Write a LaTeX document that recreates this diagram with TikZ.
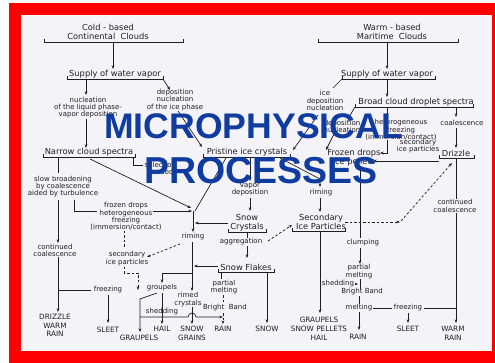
\documentclass[tikz,border=0pt]{standalone}
\usepackage{fontspec}
\newfontfamily\dv{DejaVu Sans}
\newfontfamily\lsb{Liberation Sans}
\usetikzlibrary{arrows.meta}
\definecolor{bg}{RGB}{244,244,248}
\definecolor{ink}{RGB}{30,30,35}
\definecolor{ovl}{RGB}{16,60,160}
\newcommand\brk[3]{\draw[ln] (#1,#3-3)--(#1,#3)--(#2,#3)--(#2,#3-3);}
\begin{document}
\begin{tikzpicture}[x=1pt,y=-1pt,
  lab/.style={font=\dv\fontsize{8.3}{9}\selectfont, inner sep=0.5pt, align=center, text=ink},
  sm/.style={font=\dv\fontsize{7}{7.3}\selectfont, inner sep=0.5pt, align=center, text=ink},
  cp/.style={font=\dv\fontsize{7.3}{8.8}\selectfont, inner sep=0.5pt, align=center, text=ink},
  arr/.style={-{Stealth[length=3.6pt,width=2.8pt]}},
  ln/.style={draw=ink, line width=0.7pt},
  dsh/.style={dash pattern=on 2.5pt off 2pt},
  big/.style={text=ovl, anchor=base west, inner sep=0pt}]
% frame
\fill[white] (0,0) rectangle (495,363);
\fill[red] (9,3) rectangle (495,363);
\fill[bg] (21,15) rectangle (492,351);
\useasboundingbox (0,0) rectangle (495,363);
% ---------------- left top
\node[lab] (cold) at (108,31.5) {Cold - based\\Continental\ \ Clouds};
\brk{44}{183}{42}
\draw[ln,arr] (113,42) -- (113,69);
\node[lab] (supL) at (115,74) {Supply of water vapor};
\brk{67}{163}{79}
\draw[ln,arr] (86,79) -- (86,95);
\node[sm] (nucL) at (88,107.5) {nucleation\\of the liquid phase-\\vapor deposition};
\draw[ln,arr] (163,79) -- (170,90);
\node[sm] (depL) at (175,100) {deposition\\nucleation\\of the ice phase};
\draw[ln,arr] (86,119) -- (86,148);
\node[lab] (narrow) at (89,152) {Narrow cloud spectra};
\brk{43}{135}{157}
\draw[ln,arr] (178,111) -- (202,147);
\node[lab] (prist) at (247,152) {Pristine ice crystals};
\brk{203}{290}{157}
\draw[ln] (133,157)--(133,165)--(143,165);
\node[sm,anchor=west] (seed) at (144,168.5) {selection\\needed};
% ---------------- left column
\draw[ln] (58,157) -- (58,173);
\node[sm] (slow) at (63,186.5) {slow broadening\\by coalescence\\aided by turbulence};
\draw[ln,arr] (58,200) -- (58,243);
\node[sm] (contL) at (55,250.5) {continued\\coalescence};
\draw[ln,arr] (58,257) -- (58,312);
\node[cp] (drz) at (55,325.5) {DRIZZLE\\WARM\\RAIN};
\draw[ln] (58,290) -- (91,290);
\node[sm] (frzL) at (108,290) {freezing};
\draw[ln,arr] (108,295) -- (108,323);
\node[cp] (sleetL) at (108,330) {SLEET};
% heterogeneous freezing (left)
\draw[ln] (74,200) -- (74,211) -- (97,211);
\node[sm] (hetL) at (126,216.5) {frozen drops\\heterogeneous\\freezing\\(immersion/contact)};
\draw[ln,arr] (153,211) -- (192,211);
% converging lines
\draw[ln,arr] (90,159) -- (191,208);
\draw[ln] (226,158) -- (195,211);
\draw[ln,arr] (193,211) -- (193,232);
\draw[ln,arr] (228,223) -- (195,223);
\node[sm] (rimL) at (193,237) {riming};
\draw[ln,dsh,arr] (180,244) -- (147,257);
\draw[ln,arr] (192,242) -- (192,291);
\node[sm] (rimed) at (188,299.5) {rimed\\crystals};
\draw[ln,arr] (218,266) -- (194,266);
\draw[ln,arr] (192,273) -- (162,273) -- (162,283);
\node[sm] (grp) at (162,288) {groupels};
\draw[ln,arr] (162,293) -- (162,324);
\node[cp] (hail) at (162,329) {HAIL};
\draw[ln,arr] (157,293) -- (140,299) -- (140,332);
\node[cp] (graupL) at (139,338) {GRAUPELS};
\draw[ln,arr] (140,317) -- (188,317) arc (180:360:4) -- (223,317);
\node[sm] (shedL) at (162,312) {shedding};
\draw[ln,arr] (192,307) -- (192,324);
\node[cp] (sgr) at (192,333.5) {SNOW\\GRAINS};
% dashed secondary (left)
\draw[ln,dsh] (124,231) -- (124,248);
\node[sm] (secL) at (127,258.5) {secondary\\ice particles};
\draw[ln,dsh,arr] (124,267) -- (124,273) -- (138,273) -- (138,290);
% ---------------- centre
\draw[ln,arr] (250,157) -- (250,181);
\node[sm] (vap) at (250,189.5) {vapor\\deposition};
\draw[ln,arr] (250,198) -- (250,211);
\node[lab] (sc) at (247,222.5) {Snow\\Crystals};
\brk{228}{266}{232}
\draw[ln,arr] (247,232) -- (247,258);
\node[sm,fill=bg] (agg) at (241,242) {aggregation};
\draw[ln,dsh,arr] (268,241) -- (292,225);
\node[lab] (sf) at (246,267) {Snow Flakes};
\brk{218}{274}{272}
\draw[ln] (221,272) -- (221,279);
\node[sm] (pmL) at (224,287) {partial\\melting};
\draw[ln,dsh,arr] (223,295) -- (223,324);
\node[sm,fill=bg] (bbL) at (225,308) {Bright\ \ Band};
\node[cp] (rainL) at (223,329) {RAIN};
\draw[ln,arr] (267,272) -- (267,323);
\node[cp] (snow) at (267,329) {SNOW};
% ---------------- right
\node[lab] (warm) at (392,31.5) {Warm - based\\Maritime\ \ Clouds};
\brk{318}{458}{42}
\draw[ln,arr] (387,42) -- (387,69);
\node[lab] (supR) at (387,74) {Supply of water vapor};
\brk{342}{435}{79}
\draw[ln,arr] (387,79) -- (387,97);
\draw[ln] (342,79) -- (333,88);
\node[sm] (iceDep) at (325,100.5) {ice\\deposition\\nucleation};
\draw[ln,arr] (318,115) -- (293,150);
\node[lab] (broad) at (416,102) {Broad cloud droplet spectra};
\brk{355}{473}{107}
\draw[ln] (355,107) -- (349,117);
\node[sm] (depR) at (342,126.5) {deposition\\nucleation};
\draw[ln,arr] (334,134) -- (326,150);
\draw[ln,arr] (387,107) -- (387,117);
\node[sm] (hetR) at (401,130) {heterogeneous\\freezing\\(immersion/contact)};
\draw[ln,arr] (387,140) -- (387,153) -- (380,153);
\node[sm] (secR) at (418,146) {secondary\\ice particles};
\draw[ln,arr] (456,107) -- (456,117);
\node[sm] (coalR) at (462,123) {coalescence};
\draw[ln,arr] (456,128) -- (456,148);
\node[lab] (drizzle) at (456,153) {Drizzle};
\brk{439}{474}{158}
\draw[ln,arr] (439,161) -- (373,161);
\node[lab] (frozen) at (354,157.5) {Frozen drops\\ice pellets};
\draw[ln,arr] (280,158) -- (320,179) -- (320,187);
\node[sm] (rimR) at (321,193) {riming};
\draw[ln,arr] (320,198) -- (320,212);
\node[lab] (sip) at (321,222) {Secondary\\Ice Particles};
\brk{292}{345}{231}
\draw[ln,dsh,arr] (345,222) -- (400,222);
\draw[ln,dsh,arr] (401,221) -- (452,163);
\draw[ln,arr] (320,231) -- (320,313);
\node[cp] (gsh) at (319,328.5) {GRAUPELS\\SNOW PELLETS\\HAIL};
\draw[ln] (360,167) -- (360,238);
\node[sm] (clump) at (363,243) {clumping};
\draw[ln,arr] (360,248) -- (360,264);
\node[sm] (pmR) at (359,271.5) {partial\\melting};
\draw[ln] (360,279) -- (360,289);
\draw[ln,arr] (321,284) -- (358,284);
\node[sm,fill=bg] (shedR) at (338,284) {shedding};
\node[sm] (bbR) at (362,292) {Bright Band};
\draw[ln] (359,296) -- (359,304);
\node[sm] (meltR) at (359,308) {melting};
\draw[ln,arr] (359,312) -- (359,330);
\node[cp] (rainR) at (358,337) {RAIN};
\draw[ln] (373,308) -- (392,308);
\node[sm] (frzR) at (408,308) {freezing};
\draw[ln] (424,308) -- (456,308);
\draw[ln,arr] (408,313) -- (408,323);
\node[cp] (sleetR) at (408,329) {SLEET};
\draw[ln,arr] (456,158) -- (456,323);
\node[sm,fill=bg] (contR) at (455,206) {continued\\coalescence};
\node[cp] (warmrain) at (453,333) {WARM\\RAIN};
% ---------------- overlay title
\node[big, font=\lsb\bfseries\fontsize{35.6}{36}\selectfont] (t1) at (104,138.5) {MICROPHYSICAL};
\node[big, font=\lsb\bfseries\fontsize{37.5}{38}\selectfont] (t2) at (144,183.5) {PROCESSES};
\end{tikzpicture}
\end{document}
